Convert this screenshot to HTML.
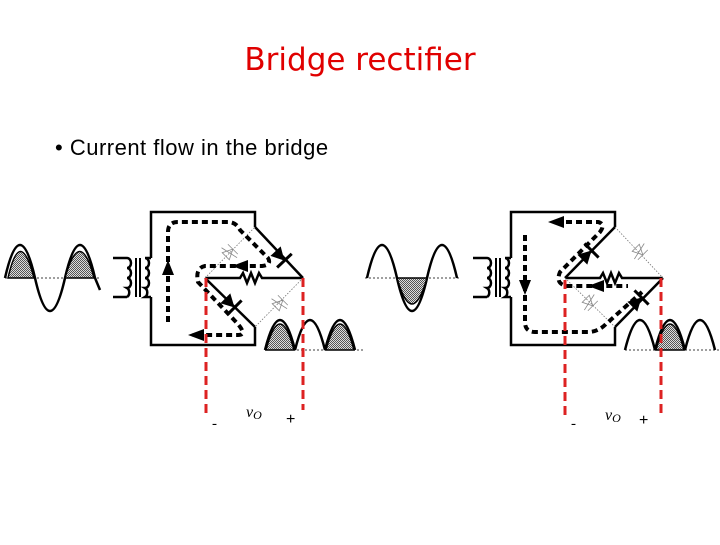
<!DOCTYPE html>
<html><head><meta charset="utf-8"><style>
body{margin:0;background:#fff;width:720px;height:540px;overflow:hidden}
</style></head><body>
<svg width="720" height="540" viewBox="0 0 720 540" xmlns="http://www.w3.org/2000/svg">
<defs>
<pattern id="dots" width="2" height="2" patternUnits="userSpaceOnUse"><rect width="2" height="2" fill="#ddd"/><rect width="1" height="1" fill="#555"/><rect x="1" y="1" width="1" height="1" fill="#555"/></pattern>
<g id="xfmr" fill="none" stroke="#000" stroke-width="2.5">
<path d="M113,258 H127 M113,297 H127"/>
<path d="M127,258 a4,5 0 0 1 0,10 a4,5 0 0 1 0,10 a4,5 0 0 1 0,10 a4,5 0 0 1 0,9"/>
<path d="M136,258 V297 M140,258 V297" stroke-width="2"/>
<path d="M151,258 h-6 a4,5 0 0 1 0,10 a4,5 0 0 1 0,10 a4,5 0 0 1 0,10 a4,5 0 0 1 0,9 h6"/>
</g>
<g id="box" fill="none" stroke="#000" stroke-width="2.5">
<path d="M151,258 V212 H255 V227 M151,297 V345 H255 V327 M205,278 H240 l3,-5 4,10 4,-10 4,10 4,-10 3,5 H303"/>
</g>
<g id="dio"><path d="M-8,-7 L-8,7 L5,0Z" fill="#000"/><line x1="5" y1="-10" x2="5" y2="10" stroke="#000" stroke-width="3"/></g>
<g id="fdio" fill="none" stroke="#888" stroke-width="0.8"><path d="M-6,-5 L-6,5 L4,0Z"/><line x1="4" y1="-7" x2="4" y2="7"/><line x1="-3" y1="-9" x2="1" y2="9"/></g>
</defs>
<text x="360" y="70" text-anchor="middle" font-family="DejaVu Sans, Liberation Sans, sans-serif" font-size="31" fill="#e00000">Bridge rectifier</text>
<text x="55" y="155" font-family="Liberation Sans, sans-serif" font-size="22" letter-spacing="0.5" fill="#000">• Current flow in the bridge</text>

<!-- LEFT -->
<path d="M5,278 Q20,212 35,278 Q50,344 65,278 Q80,212 95,278 L100,290" fill="none" stroke="#000" stroke-width="2.5"/>
<path d="M8,278 Q20,225 34,278Z M65,278 Q80,225 94,278Z" fill="url(#dots)" stroke="#000" stroke-width="1.5"/>
<line x1="5" y1="278" x2="100" y2="278" stroke="#000" stroke-width="0.8" stroke-dasharray="2,2"/>
<use href="#xfmr"/><use href="#box"/>
<path d="M255,227 L303,278 M205,278 L255,327" stroke="#000" stroke-width="2.5" fill="none"/>
<path d="M205,278 L255,227 M303,278 L255,327" stroke="#777" stroke-width="0.8" fill="none" stroke-dasharray="1.5,1.5"/>
<use href="#fdio" transform="translate(230,252) rotate(-45)"/>
<use href="#fdio" transform="translate(280,303) rotate(-45)"/>
<use href="#dio" transform="translate(281,257) rotate(47)"/>
<use href="#dio" transform="translate(231,304) rotate(45)"/>
<path d="M265,350 Q280,290 295,350 Q310,290 325,350 Q340,290 355,350" fill="none" stroke="#000" stroke-width="2.5"/>
<path d="M266,350 Q280,298 294,350Z M326,350 Q340,298 354,350Z" fill="url(#dots)" stroke="#000" stroke-width="1.5"/>
<line x1="265" y1="350" x2="365" y2="350" stroke="#000" stroke-width="0.8" stroke-dasharray="2,2"/>
<path d="M168,322 V232 Q168,222 178,222 H228 Q236,222 240,230 L268,258 Q272,265 262,266 H205 Q195,268 198,282 L236,322 Q248,335 238,335 H192" fill="none" stroke="#000" stroke-width="4" stroke-dasharray="6,4"/>
<path d="M162,275 L168,260 L174,275Z" fill="#000"/>
<path d="M248,260 L232,266 L248,272Z" fill="#000"/>
<path d="M204,329 L188,335 L204,341Z" fill="#000"/>
<g stroke="#d22" stroke-width="3" stroke-dasharray="9,5"><line x1="206" y1="278" x2="206" y2="418"/><line x1="303" y1="278" x2="303" y2="410"/></g>
<text x="212" y="428" font-family="Liberation Serif, serif" font-size="15">-</text>
<text x="246" y="417" font-family="Liberation Serif, serif" font-size="16" font-style="italic">v<tspan font-size="12" dy="2">O</tspan></text>
<text x="286" y="424" font-family="Liberation Sans, sans-serif" font-size="16">+</text>

<!-- RIGHT -->
<g transform="translate(360,0)">
<use href="#xfmr"/><use href="#box"/>
<path d="M205,278 L255,227 M303,278 L255,327" stroke="#000" stroke-width="2.5" fill="none"/>
<path d="M255,227 L303,278 M205,278 L255,327" stroke="#777" stroke-width="0.8" fill="none" stroke-dasharray="1.5,1.5"/>
<use href="#fdio" transform="translate(280,252) rotate(45)"/>
<use href="#fdio" transform="translate(230,303) rotate(45)"/>
<use href="#dio" transform="translate(228,254) rotate(-45)"/>
<use href="#dio" transform="translate(278,301) rotate(-45)"/>
</g>
<path d="M7,278 Q22,212 37,278 Q52,344 67,278 Q82,212 97,278" fill="none" stroke="#000" stroke-width="2.5" transform="translate(360,0)"/>
<path d="M397,278 Q412,330 427,278Z" fill="url(#dots)" stroke="#000" stroke-width="1.5"/>
<line x1="365" y1="278" x2="460" y2="278" stroke="#000" stroke-width="0.8" stroke-dasharray="2,2"/>
<path d="M625,350 Q640,290 655,350 Q670,290 685,350 Q700,290 715,350" fill="none" stroke="#000" stroke-width="2.5"/>
<path d="M656,350 Q670,298 684,350Z" fill="url(#dots)" stroke="#000" stroke-width="1.5"/>
<line x1="625" y1="350" x2="720" y2="350" stroke="#000" stroke-width="0.8" stroke-dasharray="2,2"/>
<path d="M556,222 H598 Q606,224 600,232 L560,272 Q555,284 567,286 H628" fill="none" stroke="#000" stroke-width="4" stroke-dasharray="6,4"/>
<path d="M525,235 V322 Q525,332 535,332 H588 Q598,332 606,324 L642,292" fill="none" stroke="#000" stroke-width="4" stroke-dasharray="6,4"/>
<path d="M564,216 L548,222 L564,228Z" fill="#000"/>
<path d="M519,280 L525,295 L531,280Z" fill="#000"/>
<path d="M604,280 L588,286 L604,292Z" fill="#000"/>
<g stroke="#d22" stroke-width="3" stroke-dasharray="9,5"><line x1="565" y1="280" x2="565" y2="418"/><line x1="661" y1="278" x2="661" y2="418"/></g>
<text x="571" y="428" font-family="Liberation Serif, serif" font-size="15">-</text>
<text x="605" y="420" font-family="Liberation Serif, serif" font-size="16" font-style="italic">v<tspan font-size="12" dy="2">O</tspan></text>
<text x="639" y="425" font-family="Liberation Sans, sans-serif" font-size="16">+</text>
</svg>
</body></html>
